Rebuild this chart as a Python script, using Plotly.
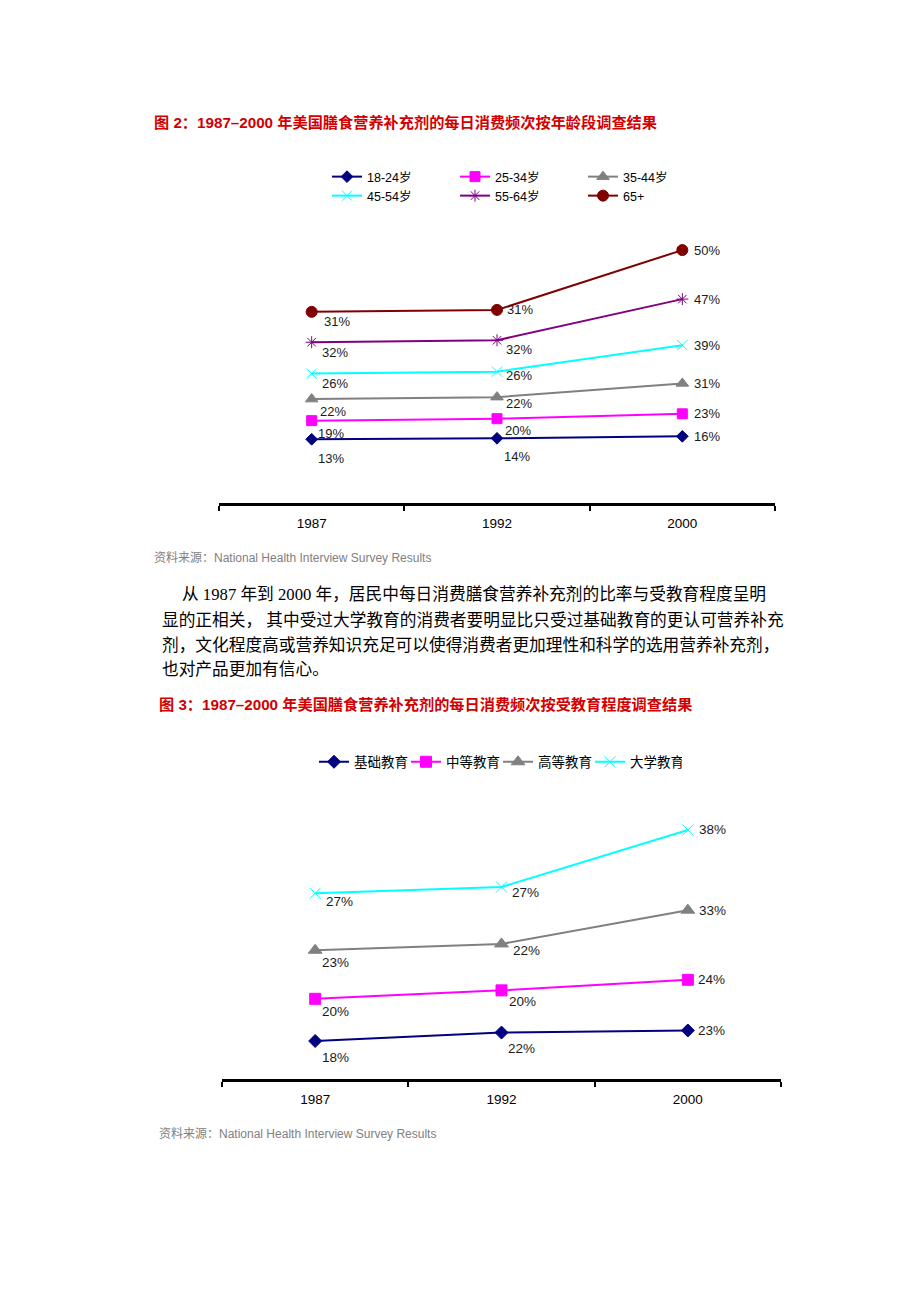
import numpy as np
import plotly.graph_objects as go

# ---------------- data ----------------
years = ["1987", "1992", "2000"]

age_groups = ["18-24岁", "25-34岁", "35-44岁", "45-54岁", "55-64岁", "65+"]
age_18_24 = [13, 14, 16]
age_25_34 = [19, 20, 23]
age_35_44 = [22, 22, 31]
age_45_54 = [26, 26, 39]
age_55_64 = [32, 32, 47]
age_65_up = [31, 31, 50]

edu_groups = ["基础教育", "中等教育", "高等教育", "大学教育"]
edu_basic = [18, 22, 23]
edu_middle = [20, 20, 24]
edu_higher = [23, 22, 33]
edu_college = [27, 27, 38]

title1 = "图 2：1987–2000 年美国膳食营养补充剂的每日消费频次按年龄段调查结果"
title2 = "图 3：1987–2000 年美国膳食营养补充剂的每日消费频次按受教育程度调查结果"
source_text = "资料来源：National Health Interview Survey Results"
para_lines = [
    "从 1987 年到 2000 年，居民中每日消费膳食营养补充剂的比率与受教育程度呈明",
    "显的正相关， 其中受过大学教育的消费者要明显比只受过基础教育的更认可营养补充",
    "剂，文化程度高或营养知识充足可以使得消费者更加理性和科学的选用营养补充剂，",
    "也对产品更加有信心。",
]

# ---------------- styles ----------------
W, H = 920, 1302
OFF = 8  # page body margin in the browser
def px(x):
    return (x - OFF) / W
def py(y):
    return 1 - (y - OFF) / H

colors1 = ["#000080", "#ff00ff", "#808080", "#00ffff", "#800080", "#800000"]
symbols1 = ["diamond", "square", "triangle-up", "x-thin-open", "asterisk-open", "circle"]
msize1 = [9, 10, 11, 10, 10, 11]
legends1 = ["legend", "legend", "legend", "legend2", "legend2", "legend2"]

colors2 = ["#000080", "#ff00ff", "#808080", "#00ffff"]
symbols2 = ["diamond", "square", "triangle-up", "x-thin-open"]
msize2 = [10, 11, 12, 11]

# label offsets (dx, dy) in px per series per year
off1 = [
    [(19, -19), (20, -18), (25, 0)],
    [(19, -13), (21, -12), (25, 0)],
    [(21, -12), (22, -6), (25, 0)],
    [(23, -10), (22, -4), (25, 0)],
    [(23, -10), (22, -9), (25, 0)],
    [(25, -10), (23, 0), (25, 0)],
]
off2 = [
    [(20, -16), (20, -16), (24, 0)],
    [(20, -13), (21, -11), (24, 0)],
    [(20, -12), (25, -7), (25, 0)],
    [(24, -8), (24, -6), (25, 0)],
]

SANS = "Liberation Sans, Arial, Noto Sans CJK SC"
SERIF = "Liberation Serif, Noto Sans CJK SC"

fig = go.Figure()

age_vals = np.array([age_18_24, age_25_34, age_35_44, age_45_54, age_55_64, age_65_up])
age_cum = np.cumsum(age_vals, axis=0)
edu_vals = np.array([edu_basic, edu_middle, edu_higher, edu_college])
edu_cum = np.cumsum(edu_vals, axis=0)

annotations = []

for i, name in enumerate(age_groups):
    fig.add_trace(go.Scatter(
        x=years, y=age_cum[i].tolist(), name=name, mode="lines+markers",
        line=dict(color=colors1[i], width=2),
        marker=dict(symbol=symbols1[i], size=msize1[i], color=colors1[i],
                    line=dict(color=colors1[i], width=1)),
        xaxis="x", yaxis="y", legend=legends1[i],
    ))
    for j, yr in enumerate(years):
        dx, dy = off1[i][j]
        annotations.append(dict(
            x=j, y=float(age_cum[i][j]), xref="x", yref="y", text=f"{int(age_vals[i][j])}%",
            showarrow=False, xshift=dx, yshift=dy,
            font=dict(family=SANS, size=13, color="#1a1a1a"),
        ))

for i, name in enumerate(edu_groups):
    fig.add_trace(go.Scatter(
        x=years, y=edu_cum[i].tolist(), name=name, mode="lines+markers",
        line=dict(color=colors2[i], width=2),
        marker=dict(symbol=symbols2[i], size=msize2[i], color=colors2[i],
                    line=dict(color=colors2[i], width=1)),
        xaxis="x2", yaxis="y2", legend="legend3",
    ))
    for j, yr in enumerate(years):
        dx, dy = off2[i][j]
        annotations.append(dict(
            x=j, y=float(edu_cum[i][j]), xref="x2", yref="y2", text=f"{int(edu_vals[i][j])}%",
            showarrow=False, xshift=dx, yshift=dy,
            font=dict(family=SANS, size=13.5, color="#1a1a1a"),
        ))

# titles
for txt, x, y in [(title1, 152, 123), (title2, 157, 704)]:
    annotations.append(dict(
        x=px(x), y=py(y), xref="paper", yref="paper", text=f"<b>{txt}</b>",
        showarrow=False, xanchor="left", yanchor="middle",
        font=dict(family=SANS, size=15.2, color="#d20000"),
    ))
# sources
for x, y in [(152, 558), (157, 1134)]:
    annotations.append(dict(
        x=px(x), y=py(y), xref="paper", yref="paper", text=source_text,
        showarrow=False, xanchor="left", yanchor="middle",
        font=dict(family=SANS, size=12, color="#808080"),
    ))
# paragraph
para_pos = [(180, 595), (160, 620), (160, 645), (160, 669)]
for txt, (x, y) in zip(para_lines, para_pos):
    annotations.append(dict(
        x=px(x), y=py(y), xref="paper", yref="paper", text=txt,
        showarrow=False, xanchor="left", yanchor="middle",
        font=dict(family=SERIF, size=16.7, color="#000000"),
    ))

axis_x = dict(
    type="category", range=[-0.5, 2.5], showline=True, linecolor="#000000", linewidth=3,
    ticks="outside", tickson="boundaries", ticklen=5, tickwidth=2, tickcolor="#000000",
    showgrid=False, zeroline=False, ticklabelstandoff=6,
    tickfont=dict(family=SANS, size=13.5, color="#000000"),
)
axis_y = dict(visible=False, showgrid=False, zeroline=False, fixedrange=True)

leg_common = dict(orientation="h", xanchor="left", yanchor="middle",
                  bgcolor="rgba(0,0,0,0)", borderwidth=0, itemwidth=30,
                  entrywidthmode="pixels", tracegroupgap=0)

fig.update_layout(
    width=W, height=H, margin=dict(l=0, r=0, t=0, b=0),
    paper_bgcolor="#ffffff", plot_bgcolor="rgba(0,0,0,0)",
    showlegend=True,
    xaxis=dict(axis_x, domain=[px(219), px(775)], anchor="y"),
    yaxis=dict(axis_y, domain=[py(503), py(230)], range=[-52, 226.5], anchor="x"),
    xaxis2=dict(axis_x, domain=[px(222), px(781)], anchor="y2"),
    yaxis2=dict(axis_y, domain=[py(1079), py(800)], range=[0, 132.2], anchor="x2"),
    legend=dict(leg_common, x=px(327), y=py(177), entrywidth=83,
                font=dict(family=SANS, size=12.5, color="#000000")),
    legend2=dict(leg_common, x=px(327), y=py(196), entrywidth=83,
                 font=dict(family=SANS, size=12.5, color="#000000")),
    legend3=dict(leg_common, x=px(314), y=py(762), entrywidth=47,
                 font=dict(family=SANS, size=13.5, color="#000000")),
    annotations=annotations,
)

fig.write_html("out.html")
